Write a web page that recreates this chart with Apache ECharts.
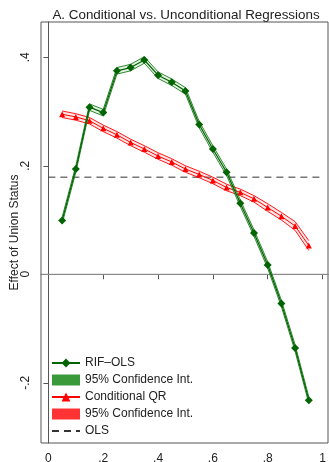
<!DOCTYPE html>
<html><head><meta charset="utf-8">
<script src="https://cdn.jsdelivr.net/npm/echarts@6/dist/echarts.min.js"></script>
<style>html,body{margin:0;padding:0;background:#fff}#c{width:329px;height:462px}</style>
</head><body><div id="c"></div>
<script>
const quantiles = [0.05,0.10,0.15,0.20,0.25,0.30,0.35,0.40,0.45,0.50,0.55,0.60,0.65,0.70,0.75,0.80,0.85,0.90,0.95];
const rifOls = [0.099,0.194,0.308,0.298,0.375,0.381,0.395,0.367,0.354,0.338,0.276,0.231,0.188,0.131,0.076,0.017,-0.054,-0.136,-0.232];
const rifLo  = [0.093,0.188,0.302,0.292,0.369,0.375,0.389,0.361,0.348,0.332,0.270,0.225,0.182,0.125,0.070,0.011,-0.060,-0.142,-0.238];
const rifHi  = [0.105,0.200,0.314,0.304,0.381,0.387,0.401,0.373,0.360,0.344,0.282,0.237,0.194,0.137,0.082,0.023,-0.048,-0.130,-0.226];
const condQr = [0.295,0.290,0.283,0.269,0.257,0.243,0.231,0.218,0.207,0.194,0.184,0.173,0.160,0.151,0.139,0.123,0.107,0.089,0.053];
const qrLo   = [0.289,0.284,0.277,0.263,0.251,0.237,0.225,0.212,0.201,0.188,0.178,0.167,0.154,0.145,0.133,0.116,0.100,0.081,0.044];
const qrHi   = [0.301,0.296,0.289,0.275,0.263,0.249,0.237,0.224,0.213,0.200,0.190,0.179,0.166,0.157,0.145,0.130,0.114,0.097,0.062];
const olsValue = 0.179;
const xTicks = [0,0.2,0.4,0.6,0.8,1];
const yTicks = [-0.2,0,0.2,0.4];
const names = ['RIF\u2013OLS','95% Confidence Int.','Conditional QR','95% Confidence Int. ','OLS'];

const fmt = v => { if (v===0) return '0'; if (v===1) return '1'; let s = String(Math.round(v*10)/10); return s.replace('0.', '.'); };
const pair = (a) => quantiles.map((q,i)=>[q,a[i]]);
const band = (lo,hi) => quantiles.map((q,i)=>[q,lo[i],hi[i]]);

const G = '#006400', GF = '#3a9a3a', R = '#ff0000', RF = '#ff3333';
const font = '"Liberation Sans", Arial, Helvetica, sans-serif';

function bandRenderer(lo, hi, stroke, fill) {
  return function(params, api) {
    if (params.dataIndex !== 0) return null;
    const up = quantiles.map((q,i)=>api.coord([q,hi[i]]));
    const dn = quantiles.map((q,i)=>api.coord([q,lo[i]]));
    const poly = up.concat(dn.slice().reverse());
    return {type:'group', children:[
      {type:'polygon', shape:{points:poly}, style:{fill:fill, stroke:'none'}},
      {type:'polyline', shape:{points:up}, style:{fill:'none', stroke:stroke, lineWidth:0.9}},
      {type:'polyline', shape:{points:dn}, style:{fill:'none', stroke:stroke, lineWidth:0.9}}
    ]};
  };
}

const chart = echarts.init(document.getElementById('c'), null, {renderer:'canvas'});
chart.setOption({
  animation:false,
  textStyle:{fontFamily:font},
  title:{text:'A. Conditional vs. Unconditional Regressions', left:181, textAlign:'center', top:4,
    textStyle:{fontSize:13.4, fontWeight:'normal', color:'#222', fontFamily:font}},
  grid:{left:41, top:22, right:1, bottom:19, show:true, borderColor:'#555', borderWidth:1,
    outerBoundsMode:'none', containLabel:false},
  legend:{orient:'vertical', left:46, top:352, itemWidth:28, itemHeight:11, itemGap:5,
    textStyle:{fontSize:12, color:'#222', fontFamily:font},
    data:[
      {name:names[0]},
      {name:names[1], icon:'rect', itemStyle:{color:GF}},
      {name:names[2]},
      {name:names[3], icon:'rect', itemStyle:{color:RF}},
      {name:names[4]}
    ]},
  xAxis:{type:'value', min:-0.027, max:1.02,
    axisLine:{lineStyle:{color:'#555'}},
    axisTick:{show:true, length:5, customValues:xTicks, lineStyle:{color:'#555'}},
    axisLabel:{customValues:xTicks, formatter:fmt, fontSize:12, color:'#222', margin:10},
    splitLine:{show:false}},
  yAxis:{type:'value', min:-0.311, max:0.465,
    name:'Effect of Union Status', nameLocation:'middle', nameGap:20, nameMoveOverlap:false,
    nameTextStyle:{fontSize:12, color:'#222', fontFamily:font},
    axisLine:{show:true, lineStyle:{color:'#555'}},
    axisTick:{show:true, length:5, customValues:yTicks, lineStyle:{color:'#555'}},
    axisLabel:{customValues:yTicks, formatter:fmt, fontSize:12, color:'#222', rotate:90, margin:9},
    splitLine:{show:false}},
  series:[
    {type:'line', name:'_zero', data:[[-0.027,0],[1.02,0]], symbol:'none', silent:true,
      lineStyle:{color:'#999', width:1}, z:1},
    {type:'line', name:names[4], data:[[0,olsValue],[1,olsValue]], symbol:'circle', showSymbol:false, silent:true,
      itemStyle:{color:'rgba(0,0,0,0)', borderWidth:0},
      lineStyle:{color:'#333', width:1, type:[7,5]}, z:2},
    {type:'custom', name:names[3], data:band(qrLo,qrHi), encode:{x:0, y:[1,2]}, silent:true,
      itemStyle:{color:RF}, renderItem:bandRenderer(qrLo,qrHi,R,'rgba(255,90,90,0.15)'), z:3},
    {type:'line', name:names[2], data:pair(condQr), symbol:'triangle', symbolSize:6, showAllSymbol:true,
      color:R, itemStyle:{color:R}, lineStyle:{color:R, width:1}, z:4},
    {type:'custom', name:names[1], data:band(rifLo,rifHi), encode:{x:0, y:[1,2]}, silent:true,
      itemStyle:{color:GF}, renderItem:bandRenderer(rifLo,rifHi,'#1a7a1a','rgba(60,160,60,0.15)'), z:5},
    {type:'line', name:names[0], data:pair(rifOls), symbol:'diamond', symbolSize:8, showAllSymbol:true,
      color:G, itemStyle:{color:G}, lineStyle:{color:G, width:1.2}, z:6}
  ]
});
</script></body></html>
